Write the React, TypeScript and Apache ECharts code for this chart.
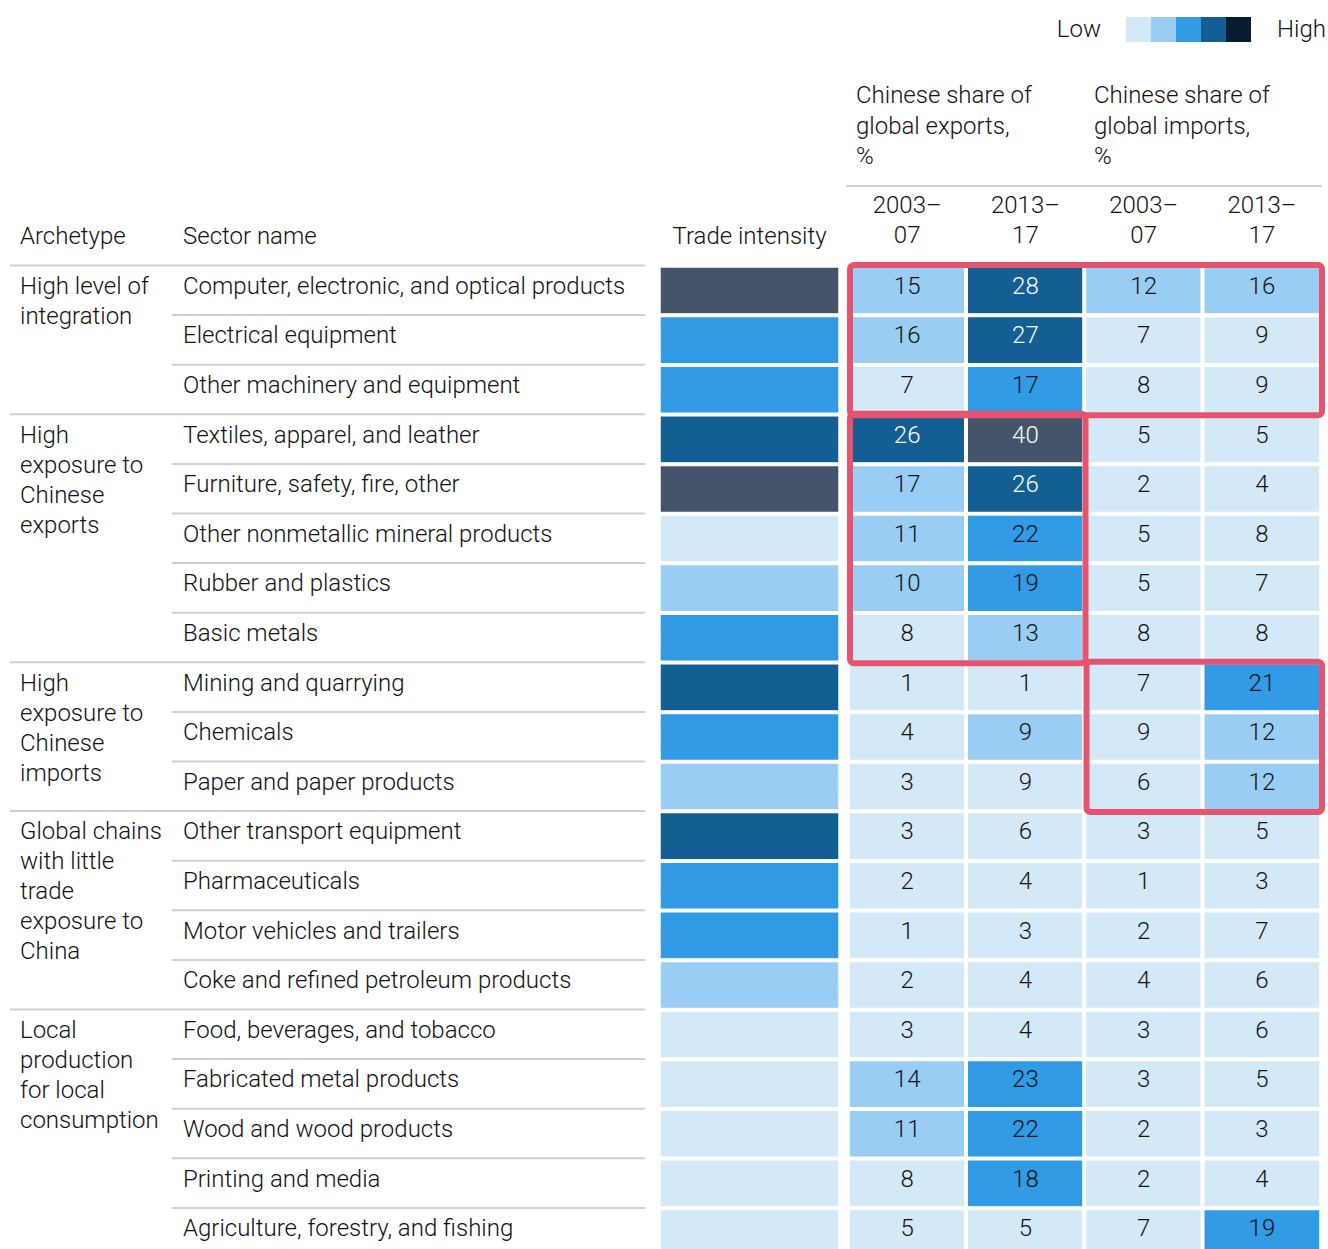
import { useEffect, useRef } from "react";
import * as echarts from "echarts";

// ---------- data ----------
const sectors = [
  "Computer, electronic, and optical products",
  "Electrical equipment",
  "Other machinery and equipment",
  "Textiles, apparel, and leather",
  "Furniture, safety, fire, other",
  "Other nonmetallic mineral products",
  "Rubber and plastics",
  "Basic metals",
  "Mining and quarrying",
  "Chemicals",
  "Paper and paper products",
  "Other transport equipment",
  "Pharmaceuticals",
  "Motor vehicles and trailers",
  "Coke and refined petroleum products",
  "Food, beverages, and tobacco",
  "Fabricated metal products",
  "Wood and wood products",
  "Printing and media",
  "Agriculture, forestry, and fishing",
];

const archetypeLabels = [
  "High level of\nintegration",
  "High\nexposure to\nChinese\nexports",
  "High\nexposure to\nChinese\nimports",
  "Global chains\nwith little\ntrade\nexposure to\nChina",
  "Local\nproduction\nfor local\nconsumption",
];
const archetypeStartRows = [0, 3, 8, 11, 15];

const columnLabels = ["2003–\n07", "2013–\n17", "2003–\n07", "2013–\n17"];
const groupHeaders = ["Chinese share of\nglobal exports,\n%", "Chinese share of\nglobal imports,\n%"];

// shade level (0 = low ... 4 = high)
const tradeIntensityLevel = [4, 2, 2, 3, 4, 0, 1, 2, 3, 2, 1, 3, 2, 2, 1, 0, 0, 0, 0, 0];

const exports0307 = [15, 16, 7, 26, 17, 11, 10, 8, 1, 4, 3, 3, 2, 1, 2, 3, 14, 11, 8, 5];
const exports0307Level = [1, 1, 0, 3, 1, 1, 1, 0, 0, 0, 0, 0, 0, 0, 0, 0, 1, 1, 0, 0];
const exports1317 = [28, 27, 17, 40, 26, 22, 19, 13, 1, 9, 9, 6, 4, 3, 4, 4, 23, 22, 18, 5];
const exports1317Level = [3, 3, 2, 4, 3, 2, 2, 1, 0, 1, 0, 0, 0, 0, 0, 0, 2, 2, 2, 0];
const imports0307 = [12, 7, 8, 5, 2, 5, 5, 8, 7, 9, 6, 3, 1, 2, 4, 3, 3, 2, 2, 7];
const imports0307Level = [1, 0, 0, 0, 0, 0, 0, 0, 0, 0, 0, 0, 0, 0, 0, 0, 0, 0, 0, 0];
const imports1317 = [16, 9, 9, 5, 4, 8, 7, 8, 21, 12, 12, 5, 3, 7, 6, 6, 5, 3, 4, 19];
const imports1317Level = [1, 0, 0, 0, 0, 0, 0, 0, 2, 1, 1, 0, 0, 0, 0, 0, 0, 0, 0, 2];

// highlighted blocks: [firstCol, lastCol, firstRow, lastRow]
const highlightBlocks = [
  [0, 3, 0, 2],
  [0, 1, 3, 7],
  [2, 3, 8, 10],
];

// ---------- styles ----------
const cellColors = ["#D4E9F8", "#9ACDF3", "#319BE6", "#135E92", "#44546A"];
const legendColors = ["#D4E9F8", "#9ACDF3", "#319BE6", "#135E92", "#061D2D"];
const FONT = "Roboto, 'Liberation Sans', Arial, sans-serif";
const FW = 300;
const TEXT = "#111111";
const FS = 24;

export default function App() {
  const ref = useRef<HTMLDivElement>(null);

  useEffect(() => {
    if (!ref.current) return;
    const chart = echarts.init(ref.current, undefined, { renderer: "svg" });

    const valueCols = [
      [exports0307, exports0307Level],
      [exports1317, exports1317Level],
      [imports0307, imports0307Level],
      [imports1317, imports1317Level],
    ];
    const valueData: any[] = [];
    valueCols.forEach(([vals, lv], c) => {
      vals.forEach((v, r) => {
        valueData.push({
          value: [c, r, lv[r], v],
          label: { color: lv[r] >= 3 ? "#ffffff" : TEXT },
        });
      });
    });
    const tiData = tradeIntensityLevel.map((lv, r) => [0, r, lv]);

    const txt = { fontSize: FS, color: TEXT, fontFamily: FONT, fontWeight: FW };

    chart.setOption({
      animation: false,
      textStyle: { fontFamily: FONT },
      grid: [
        { left: 659, top: 266, width: 181, height: 992, outerBoundsMode: "none", containLabel: false },
        { left: 848, top: 266, width: 473, height: 992, outerBoundsMode: "none", containLabel: false },
      ],
      xAxis: [
        {
          gridIndex: 0,
          type: "category",
          data: ["Trade intensity"],
          position: "top",
          axisLine: { show: false },
          axisTick: { show: false },
          splitLine: { show: false },
          axisLabel: { ...txt, margin: 15, lineHeight: 30 },
        },
        {
          gridIndex: 1,
          type: "category",
          data: columnLabels,
          position: "top",
          axisLine: { show: false },
          axisTick: { show: false },
          splitLine: { show: false },
          axisLabel: { ...txt, margin: 16, lineHeight: 30 },
        },
      ],
      yAxis: [
        {
          gridIndex: 0,
          type: "category",
          data: sectors,
          inverse: true,
          axisLine: { show: false },
          axisTick: { show: false },
          splitLine: { show: false },
          axisLabel: {
            ...txt,
            margin: 476,
            align: "left",
            verticalAlign: "bottom",
            lineHeight: 10,
          },
        },
        {
          gridIndex: 1,
          type: "category",
          data: sectors,
          inverse: true,
          show: false,
        },
      ],
      visualMap: {
        type: "piecewise",
        show: false,
        dimension: 2,
        seriesIndex: [0, 1],
        pieces: cellColors.map((c, i) => ({ value: i, color: c })),
      },
      series: [
        {
          type: "heatmap",
          xAxisIndex: 0,
          yAxisIndex: 0,
          data: tiData,
          itemStyle: { borderColor: "#ffffff", borderWidth: 4 },
          label: { show: false },
          emphasis: { disabled: true },
        },
        {
          type: "heatmap",
          xAxisIndex: 1,
          yAxisIndex: 1,
          data: valueData,
          itemStyle: { borderColor: "#ffffff", borderWidth: 4 },
          label: {
            show: true,
            fontSize: FS,
            fontFamily: FONT,
            fontWeight: FW,
            offset: [0, -5],
            formatter: (p: any) => String(p.value[3]),
          },
          emphasis: { disabled: true },
        },
      ],
    });

    // geometry from the axes
    const p0 = chart.convertToPixel({ xAxisIndex: 1, yAxisIndex: 1 }, [0, 0]) as number[];
    const p1 = chart.convertToPixel({ xAxisIndex: 1, yAxisIndex: 1 }, [1, 1]) as number[];
    const pitch = p1[1] - p0[1];
    const colW = p1[0] - p0[0];
    const rowEdge = (r: number) => p0[1] - pitch / 2 + r * pitch;
    const rowCenter = (r: number) => p0[1] + r * pitch;
    const colEdge = (c: number) => p0[0] - colW / 2 + c * colW;

    const graphics: any[] = [];
    const lineColor = "#cfcfcf";

    // separators in left table
    for (let r = 0; r < sectors.length; r++) {
      const isGroup = r === 0 || archetypeStartRows.includes(r);
      const y = rowEdge(r) - 0.5;
      graphics.push({
        type: "line",
        silent: true,
        shape: { x1: isGroup ? 10 : 172, y1: y, x2: 645, y2: y },
        style: { stroke: lineColor, lineWidth: 2 },
      });
    }
    // line above years
    graphics.push({
      type: "line",
      silent: true,
      shape: { x1: 846, y1: 186, x2: 1322, y2: 186 },
      style: { stroke: lineColor, lineWidth: 2 },
    });

    const textStyle = (text: string, align = "left", verticalAlign = "top", lh = 30) => ({
      text,
      fontSize: FS,
      fontFamily: FONT,
      fontWeight: FW,
      fill: TEXT,
      lineHeight: lh,
      verticalAlign,
      align,
    });

    // archetype labels
    archetypeLabels.forEach((t, i) => {
      graphics.push({
        type: "text",
        silent: true,
        x: 20,
        y: rowCenter(archetypeStartRows[i]) - 5 - 15,
        style: textStyle(t),
      });
    });

    // headers
    graphics.push({ type: "text", silent: true, x: 20, y: 221, style: textStyle("Archetype") });
    graphics.push({ type: "text", silent: true, x: 183, y: 221, style: textStyle("Sector name") });
    graphics.push({ type: "text", silent: true, x: 856, y: 80, style: textStyle(groupHeaders[0], "left", "top", 30.5) });
    graphics.push({ type: "text", silent: true, x: 1094, y: 80, style: textStyle(groupHeaders[1], "left", "top", 30.5) });

    // legend
    graphics.push({ type: "text", silent: true, x: 1101, y: 29, style: textStyle("Low", "right", "middle") });
    legendColors.forEach((c, i) => {
      graphics.push({
        type: "rect",
        silent: true,
        shape: { x: 1126 + 25 * i, y: 17, width: 25, height: 25 },
        style: { fill: c },
      });
    });
    graphics.push({ type: "text", silent: true, x: 1277, y: 29, style: textStyle("High", "left", "middle") });

    // highlight boxes
    highlightBlocks.forEach(([c0, c1, r0, r1]) => {
      const x1 = colEdge(c0) + 2;
      const x2 = colEdge(c1 + 1) + 1;
      const y1 = rowEdge(r0) - 1;
      const y2 = rowEdge(r1 + 1) + 0.5;
      graphics.push({
        type: "rect",
        silent: true,
        z: 100,
        shape: { x: x1, y: y1, width: x2 - x1, height: y2 - y1, r: 4 },
        style: { fill: "none", stroke: "#E5536E", lineWidth: 6 },
      });
    });

    chart.setOption({ graphic: graphics });

    return () => chart.dispose();
  }, []);

  return (
    <div
      ref={ref}
      style={{ position: "absolute", left: 0, top: 0, width: 1328, height: 1249, background: "#ffffff" }}
    />
  );
}
